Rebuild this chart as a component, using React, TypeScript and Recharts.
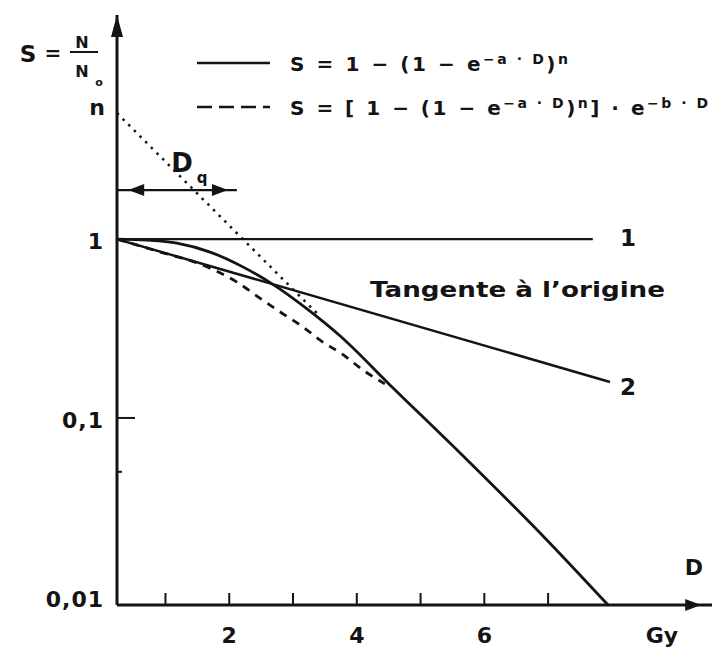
import React from "react";
import { ComposedChart, Line, XAxis, YAxis, ReferenceDot } from "recharts";

// Dose in Gy, surviving fraction S = N / N0 (log axis)
const shoulderDose = [0.24, 0.71, 1.18, 1.7, 2.22, 2.75, 3.22, 3.74, 4.52, 5.62, 6.98, 7.94];
const shoulderSurvival = [1, 0.987, 0.95, 0.846, 0.697, 0.539, 0.407, 0.287, 0.153, 0.0637, 0.0208, 0.009];

const twoComponentDose = [0.24, 0.92, 1.54, 2.12, 2.48, 2.8, 3.16, 3.42, 3.79, 4.1, 4.44];
const twoComponentSurvival = [1, 0.846, 0.725, 0.575, 0.468, 0.391, 0.322, 0.273, 0.225, 0.185, 0.155];

// tangents at the origin: 1 (flat) and 2
const flatTangentDose = [0.24, 7.7];
const flatTangentSurvival = [1, 1];
const slopeTangentDose = [0.24, 7.97];
const slopeTangentSurvival = [1, 0.159];

// back-extrapolation of the exponential part down from n
const extrapolationDose = [0.24, 3.4];
const extrapolationSurvival = [5.06, 0.377];

// quasi-threshold dose Dq
const dqDose = [0.24, 2.12];
const dqLevel = [1.88, 1.88];

const doseTicks = [1, 2, 3, 4, 5, 6, 7];
const doseTickLabels = ["", "2", "", "4", "", "6", ""];
const survivalTicks = [0.01, 0.05, 0.1, 1];
const survivalTickLabels = ["0,01", "", "0,1", "1"];

const INK = "#141414";
const FONT = "'DejaVu Sans', 'Liberation Sans', sans-serif";

const toRows = (xs: number[], ys: number[]) => xs.map((D, i) => ({ D, S: ys[i] }));

const DoseTick = (props: any) => {
  const { x, y, payload } = props;
  const label = doseTickLabels[doseTicks.indexOf(payload.value)];
  return (
    <g>
      <line x1={x} x2={x} y1={y} y2={y - 12} stroke={INK} strokeWidth={2} />
      {label && (
        <text x={x} y={y + 38} textAnchor="middle" fontSize={22} fontWeight="bold" fontFamily={FONT} fill={INK}>
          {label}
        </text>
      )}
    </g>
  );
};

const SurvivalTick = (props: any) => {
  const { x, y, payload } = props;
  const v = payload.value;
  const label = survivalTickLabels[survivalTicks.indexOf(v)];
  const len = v === 0.1 ? 18 : v === 0.05 ? 5 : 0;
  return (
    <g>
      {len > 0 && <line x1={x} x2={x + len} y1={y} y2={y} stroke={INK} strokeWidth={2} />}
      {label && (
        <text x={x - 13} y={y + 10} textAnchor="end" fontSize={22} fontWeight="bold" fontFamily={FONT} fill={INK} letterSpacing={1}>
          {label}
        </text>
      )}
    </g>
  );
};

// filled arrowhead with its tip on the reference point
const arrowHead = (dir: "up" | "left" | "right") => (p: any) => {
  const { cx, cy } = p;
  if (dir === "up") return <path d={`M${cx},${cy} L${cx - 6},${cy + 22} L${cx + 6},${cy + 22} Z`} fill={INK} />;
  if (dir === "left") return <path d={`M${cx},${cy} L${cx + 16},${cy - 6} L${cx + 16},${cy + 6} Z`} fill={INK} />;
  return <path d={`M${cx},${cy} L${cx - 16},${cy - 6} L${cx - 16},${cy + 6} Z`} fill={INK} />;
};

export default function App() {
  return (
    <div style={{ position: "absolute", left: 0, top: 0, width: 714, height: 647, background: "#fff" }}>
      <ComposedChart width={714} height={647} margin={{ top: 15, right: 2, bottom: 41, left: 116 }}>
        <XAxis
          type="number"
          dataKey="D"
          domain={[0.24, 9.57]}
          allowDataOverflow
          ticks={doseTicks}
          tick={<DoseTick />}
          tickLine={false}
          tickSize={0}
          tickMargin={0}
          height={1}
          axisLine={{ stroke: INK, strokeWidth: 3 }}
        />
        <YAxis
          type="number"
          dataKey="S"
          scale="log"
          domain={[0.009, 17.9]}
          allowDataOverflow
          ticks={survivalTicks}
          tick={<SurvivalTick />}
          tickLine={false}
          tickSize={0}
          tickMargin={0}
          width={1}
          axisLine={{ stroke: INK, strokeWidth: 3 }}
        />
        <Line data={toRows(flatTangentDose, flatTangentSurvival)} dataKey="S" type="linear" stroke={INK} strokeWidth={2.2} dot={false} isAnimationActive={false} />
        <Line data={toRows(slopeTangentDose, slopeTangentSurvival)} dataKey="S" type="linear" stroke={INK} strokeWidth={2.5} dot={false} isAnimationActive={false} />
        <Line data={toRows(extrapolationDose, extrapolationSurvival)} dataKey="S" type="linear" stroke={INK} strokeWidth={2.5} strokeDasharray="2.5 5.5" dot={false} isAnimationActive={false} />
        <Line data={toRows(twoComponentDose, twoComponentSurvival)} dataKey="S" type="monotone" stroke={INK} strokeWidth={2.8} strokeDasharray="8 7" dot={false} isAnimationActive={false} />
        <Line data={toRows(shoulderDose, shoulderSurvival)} dataKey="S" type="monotone" stroke={INK} strokeWidth={2.8} dot={false} isAnimationActive={false} />
        <Line data={toRows(dqDose, dqLevel)} dataKey="S" type="linear" stroke={INK} strokeWidth={2.2} dot={false} isAnimationActive={false} />
        <ReferenceDot x={0.415} y={1.88} ifOverflow="visible" shape={arrowHead("left")} />
        <ReferenceDot x={1.98} y={1.88} ifOverflow="visible" shape={arrowHead("right")} />
        <ReferenceDot x={0.24} y={17.9} ifOverflow="visible" shape={arrowHead("up")} />
        <ReferenceDot x={9.4} y={0.009} ifOverflow="visible" shape={arrowHead("right")} />
      </ComposedChart>

      <svg width={714} height={647} style={{ position: "absolute", left: 0, top: 0, pointerEvents: "none" }} fontFamily={FONT} fill={INK}>
        {/* axis title S = N / N0 */}
        <text x={28} y={62} textAnchor="middle" fontSize={23} fontWeight="bold">S</text>
        <text x={53} y={60} textAnchor="middle" fontSize={20} fontWeight="bold">=</text>
        <text x={82} y={48} textAnchor="middle" fontSize={16} fontWeight="bold">N</text>
        <line x1={70} x2={98} y1={52} y2={52} stroke={INK} strokeWidth={2} />
        <text x={82} y={77} textAnchor="middle" fontSize={16} fontWeight="bold">N</text>
        <text x={99} y={86} textAnchor="middle" fontSize={11} fontWeight="bold">o</text>
        <text x={97} y={115} textAnchor="middle" fontSize={22} fontWeight="bold">n</text>

        {/* Dq */}
        <text x={182} y={172} textAnchor="middle" fontSize={26} fontWeight="bold">D</text>
        <text x={202} y={183} textAnchor="middle" fontSize={15} fontWeight="bold">q</text>

        {/* legend */}
        <line x1={197} x2={270} y1={63} y2={63} stroke={INK} strokeWidth={2.5} />
        <text x={290} y={71} fontSize={20} fontWeight="bold" textLength={278} lengthAdjust="spacing">
          S = 1 − (1 − e<tspan dy={-7} fontSize={14}>−a · D</tspan><tspan dy={7}>)</tspan><tspan dy={-7} fontSize={14}>n</tspan>
        </text>
        <line x1={197} x2={270} y1={107} y2={107} stroke={INK} strokeWidth={2.5} strokeDasharray="15 7" />
        <text x={290} y={115} fontSize={20} fontWeight="bold" textLength={418} lengthAdjust="spacing">
          S = [ 1 − (1 − e<tspan dy={-7} fontSize={14}>−a · D</tspan><tspan dy={7}>)</tspan><tspan dy={-7} fontSize={14}>n</tspan><tspan dy={7}>] · e</tspan><tspan dy={-7} fontSize={14}>−b · D</tspan>
        </text>

        {/* curve labels */}
        <text x={628} y={246} textAnchor="middle" fontSize={23} fontWeight="bold">1</text>
        <text x={628} y={395} textAnchor="middle" fontSize={23} fontWeight="bold">2</text>
        <text x={370} y={297} fontSize={22} fontWeight="bold" textLength={295} lengthAdjust="spacingAndGlyphs">Tangente à l’origine</text>

        {/* dose axis title */}
        <text x={694} y={575} textAnchor="middle" fontSize={22} fontWeight="bold">D</text>
        <text x={662} y={643} textAnchor="middle" fontSize={22} fontWeight="bold">Gy</text>
      </svg>
    </div>
  );
}
